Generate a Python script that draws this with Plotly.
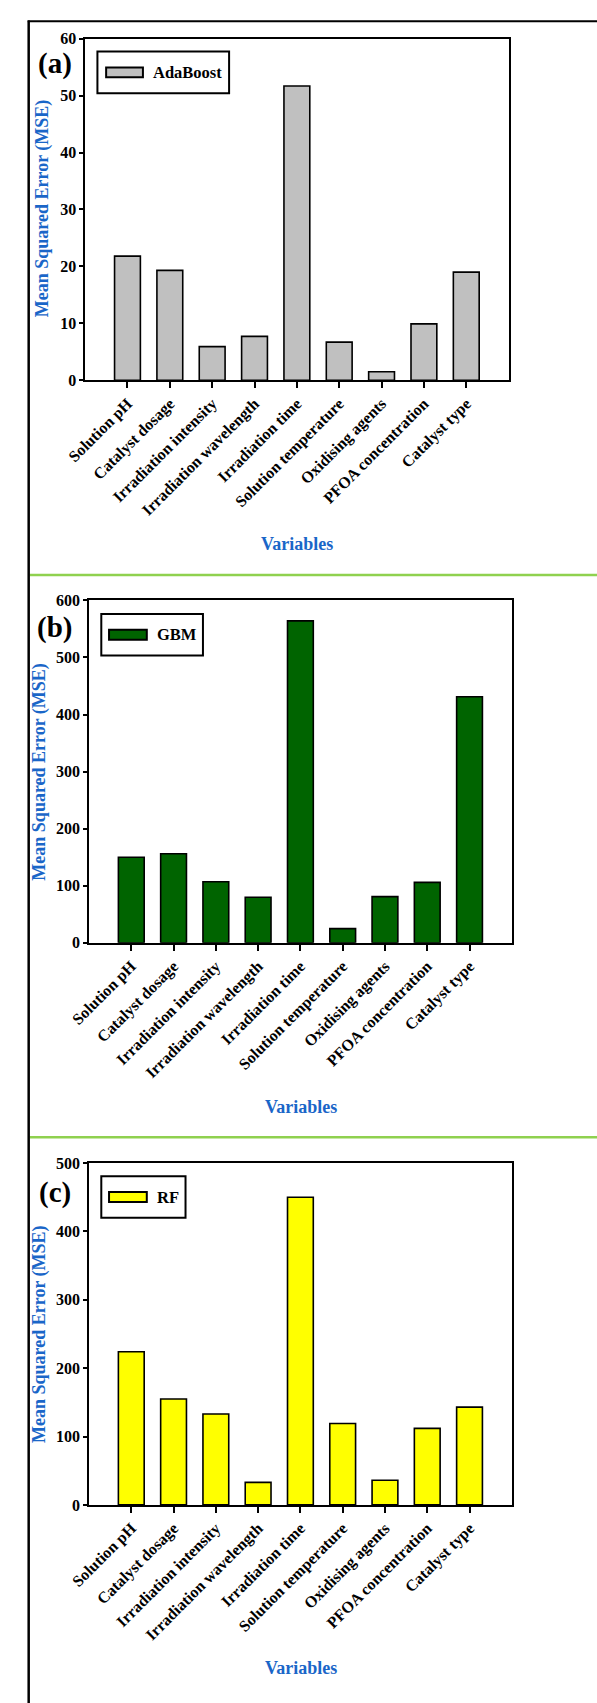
import plotly.graph_objects as go

# ---- data -------------------------------------------------------------
variables = [
    "Solution pH", "Catalyst dosage", "Irradiation intensity",
    "Irradiation wavelength", "Irradiation time", "Solution temperature",
    "Oxidising agents", "PFOA concentration", "Catalyst type",
]
adaboost_mse = [21.8, 19.3, 5.9, 7.7, 51.7, 6.7, 1.5, 9.9, 19.0]
gbm_mse = [150, 156, 107, 80, 564, 25, 81, 106, 431]
rf_mse = [224, 155, 133, 33, 450, 119, 36, 112, 143]

model_names = ["AdaBoost", "GBM", "RF"]
panel_tags = ["(a)", "(b)", "(c)"]
y_max = [60, 600, 500]
y_step = [10, 100, 100]

# ---- page geometry (pixels) -------------------------------------------
W, H = 597, 1703
FONT = "Liberation Serif, Times New Roman, serif"
BLUE = "#1a66c8"
GREEN_RULE = "#8fd14f"

def fx(px):
    return px / W

def fy(py):
    return 1 - py / H

# plot frame for each panel: left, right, top, bottom
frames = [
    (68.3, 505.7, 31.0, 376.0),
    (72.3, 509.0, 598.3, 944.3),
    (72.3, 509.0, 1166.7, 1512.0),
]
bar_colors = ["#c0c0c0", "#006400", "#ffff00"]
# legend box (x0, x1, y0, y1), swatch (x0, x1, y0, y1), label x
legend_boxes = [
    ((81, 217, 44, 86), (90, 128, 60, 70), 136),
    ((85, 190, 612, 654), (93, 132, 628, 638), 140),
    ((85, 172, 1180, 1222), (93, 132, 1196, 1206), 140),
]
tag_pos = [(37.5, 56), (37, 626), (37, 1196)]
ytitle_pos = [(25, 202), (21, 771), (21, 1339)]
xtitle_pos = [(287, 541), (291, 1110), (291, 1677)]
rules_y = [572.7, 1140.7]

series = [adaboost_mse, gbm_mse, rf_mse]

fig = go.Figure()
shapes = []
annotations = []
layout = {}

for i, values in enumerate(series):
    n = "" if i == 0 else str(i + 1)
    left, right, top, bottom = frames[i]
    fig.add_trace(go.Bar(
        x=variables, y=values, name=model_names[i],
        xaxis="x" + n, yaxis="y" + n,
        marker=dict(color=bar_colors[i], line=dict(color="black", width=1.6)),
        width=0.61, showlegend=False,
    ))
    layout["xaxis" + n] = dict(
        domain=[fx(left), fx(right)], anchor="y" + n,
        type="category", range=[-1, 9],
        showline=True, mirror=True, linecolor="black", linewidth=1.6,
        ticks="outside", ticklen=6, tickwidth=1.6, tickcolor="black",
        tickangle=-45, showgrid=False, zeroline=False,
        tickfont=dict(family=FONT, size=16, color="black", weight="bold"),
    )
    layout["yaxis" + n] = dict(
        domain=[fy(bottom), fy(top)], anchor="x" + n,
        range=[0, y_max[i]], dtick=y_step[i],
        showline=True, mirror=True, linecolor="black", linewidth=1.6,
        ticks="outside", ticklen=4, tickwidth=1.6, tickcolor="black",
        showgrid=False, zeroline=False,
        tickfont=dict(family=FONT, size=16, color="black", weight="bold"),
    )

    # legend box with a wide swatch
    (bx0, bx1, by0, by1), (sx0, sx1, sy0, sy1), lx = legend_boxes[i]
    shapes.append(dict(type="rect", xref="paper", yref="paper",
                       x0=fx(bx0), x1=fx(bx1), y0=fy(by1), y1=fy(by0),
                       line=dict(color="black", width=2), fillcolor="white"))
    shapes.append(dict(type="rect", xref="paper", yref="paper",
                       x0=fx(sx0), x1=fx(sx1), y0=fy(sy1), y1=fy(sy0),
                       line=dict(color="black", width=2), fillcolor=bar_colors[i]))
    annotations.append(dict(
        xref="paper", yref="paper", x=fx(lx), y=fy((sy0 + sy1) / 2),
        text=model_names[i], showarrow=False, xanchor="left", yanchor="middle",
        font=dict(family=FONT, size=16.5, color="black", weight="bold"),
    ))

    # panel tag
    tx, ty = tag_pos[i]
    annotations.append(dict(
        xref="paper", yref="paper", x=fx(tx), y=fy(ty),
        text=panel_tags[i], showarrow=False, xanchor="center", yanchor="middle",
        font=dict(family=FONT, size=29, color="black", weight="bold"),
    ))

    # axis titles
    ax_, ay_ = ytitle_pos[i]
    annotations.append(dict(
        xref="paper", yref="paper", x=fx(ax_), y=fy(ay_),
        text="Mean Squared Error (MSE)", textangle=-90, showarrow=False,
        xanchor="center", yanchor="middle",
        font=dict(family=FONT, size=18, color=BLUE, weight="bold"),
    ))
    vx, vy = xtitle_pos[i]
    annotations.append(dict(
        xref="paper", yref="paper", x=fx(vx), y=fy(vy),
        text="Variables", showarrow=False, xanchor="center", yanchor="middle",
        font=dict(family=FONT, size=18, color=BLUE, weight="bold"),
    ))

# green separators between panels
for ry in rules_y:
    shapes.append(dict(type="line", xref="paper", yref="paper",
                       x0=fx(11), x1=1.01, y0=fy(ry), y1=fy(ry),
                       line=dict(color=GREEN_RULE, width=2.5)))

# outer frame (top and left edges)
shapes.append(dict(type="line", xref="paper", yref="paper",
                   x0=fx(9), x1=1.01, y0=fy(13.5), y1=fy(13.5),
                   line=dict(color="black", width=2)))
shapes.append(dict(type="line", xref="paper", yref="paper",
                   x0=fx(10), x1=fx(10), y0=fy(12.5), y1=-0.01,
                   line=dict(color="black", width=2.5)))

fig.update_layout(
    width=W, height=H,
    margin=dict(l=0, r=0, t=0, b=0),
    paper_bgcolor="white", plot_bgcolor="white",
    bargap=0.39,
    shapes=shapes, annotations=annotations,
    **layout,
)

fig.write_html("out.html")
